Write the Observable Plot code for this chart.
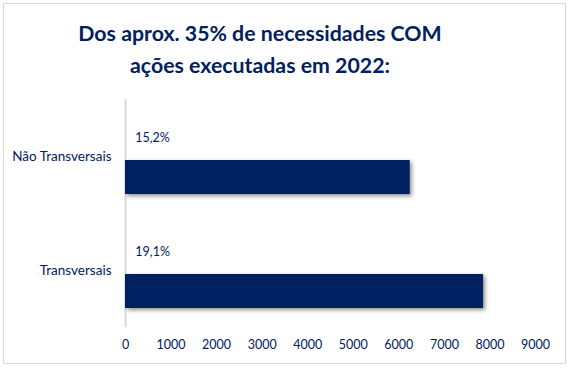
<!DOCTYPE html>
<html><head><meta charset="utf-8">
<script src="https://cdn.jsdelivr.net/npm/d3@7"></script>
<script src="https://cdn.jsdelivr.net/npm/@observablehq/plot@0.6"></script>
<style>
html,body{margin:0;padding:0;background:#fff;}
#wrap{position:relative;width:573px;height:370px;overflow:hidden;font-family:Lato,"Liberation Sans",sans-serif;}
#frame{position:absolute;left:3px;top:3px;width:563px;height:361px;border:1px solid #d9d9d9;box-sizing:border-box;pointer-events:none;}
#title{position:absolute;left:0;top:17px;width:520px;text-align:center;font-weight:bold;font-size:21.3px;line-height:32px;color:#002060;}
#chart{position:absolute;left:0;top:90px;}
</style></head>
<body>
<div id="wrap">
  <div id="frame"></div>
  <div id="title">Dos aprox. 35% de necessidades COM<br>ações executadas em 2022:</div>
  <div id="chart"></div>
</div>
<script>
const categories = ["Não Transversais", "Transversais"];
const counts = [6250, 7860];
const shares = [15.2, 19.1];
const shareLabels = ["15,2%", "19,1%"];
const xTicks = [0, 1000, 2000, 3000, 4000, 5000, 6000, 7000, 8000, 9000];

const countRows = categories.map((c, i) => ({cat: c, series: "n", value: counts[i]}));
const shareRows = categories.map((c, i) => ({cat: c, series: "pct", value: shares[i], label: shareLabels[i]}));

const navy = "#002060";
const plot = Plot.plot({
  width: 573,
  height: 280,
  marginLeft: 125,
  marginRight: 38,
  marginTop: 8,
  marginBottom: 43,
  style: {fontFamily: "Lato, 'Liberation Sans', sans-serif", fontSize: "12.5px", color: navy, background: "transparent"},
  x: {domain: [0, 9000], label: null},
  fy: {domain: categories, padding: 0, label: null},
  y: {domain: ["pct", "n"], axis: null, paddingInner: 0, paddingOuter: 0.636, align: 0.58},
  marks: [
    Plot.axisX({ticks: xTicks, tickSize: 0, tickPadding: 13, tickFormat: d => String(d), label: null, fill: navy}),
    Plot.axisFy({anchor: "left", tickSize: 0, tickPadding: 14, label: null, fill: navy, fontSize: 13.5}),
    Plot.ruleX([0], {stroke: "#d9d9d9", strokeWidth: 2}),
    Plot.barX(countRows, {x: "value", y: "series", fy: "cat", fill: navy}),
    Plot.text(shareRows, {x: "value", y: "series", fy: "cat", text: "label", textAnchor: "start", dx: 9, dy: -6, fill: navy})
  ]
});
document.getElementById("chart").appendChild(plot);
plot.querySelectorAll('g[aria-label="bar"]').forEach(g => {
  g.style.filter = "drop-shadow(2px 2px 2px rgba(0,0,0,0.45))";
});
</script>
</body></html>
